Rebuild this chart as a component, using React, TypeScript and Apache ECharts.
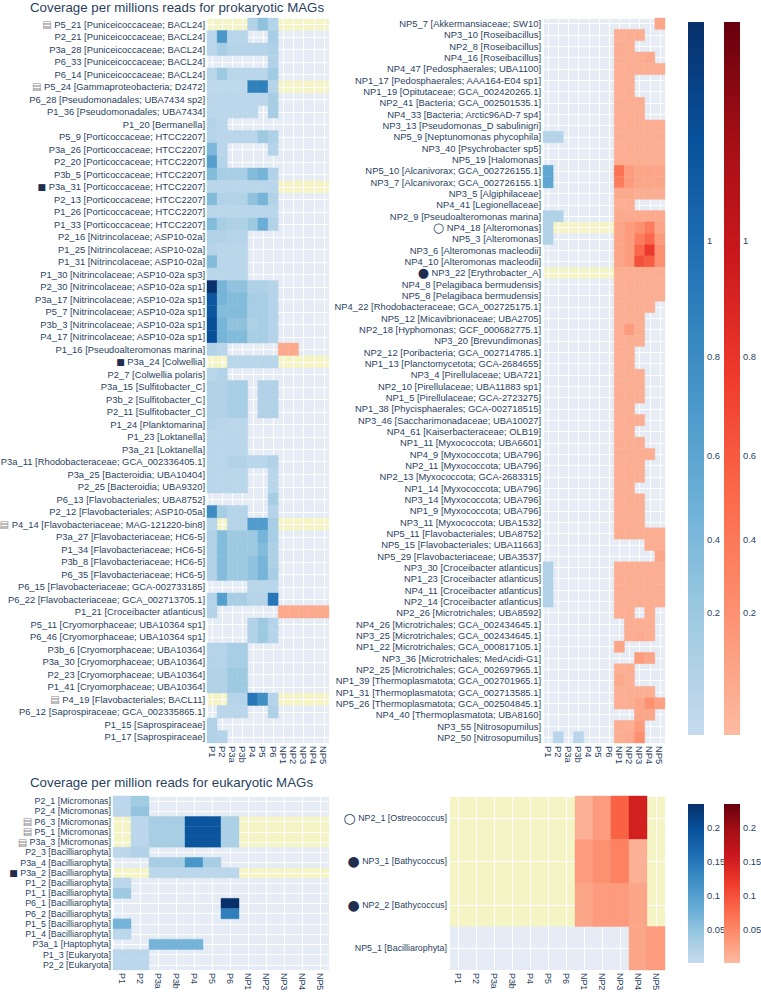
import React, { useEffect, useRef } from "react";
import * as echarts from "echarts";

const N = null;
const E7 = [N, N, N, N, N, N, N];

const COLUMNS = ["P1", "P2", "P3a", "P3b", "P4", "P5", "P6", "NP1", "NP2", "NP3", "NP4", "NP5"];

const TITLE_PRO = "Coverage per millions reads for prokaryotic MAGs";
const TITLE_EUK = "Coverage per million reads for eukaryotic MAGs";

// ---------- prokaryotic, left panel ----------
const PL_ROWS = [
  "P5_21 [Puniceicoccaceae; BACL24]",
  "P2_21 [Puniceicoccaceae; BACL24]",
  "P3a_28 [Puniceicoccaceae; BACL24]",
  "P6_33 [Puniceicoccaceae; BACL24]",
  "P6_14 [Puniceicoccaceae; BACL24]",
  "P5_24 [Gammaproteobacteria; D2472]",
  "P6_28 [Pseudomonadales; UBA7434 sp2]",
  "P1_36 [Pseudomonadales; UBA7434]",
  "P1_20 [Bermanella]",
  "P5_9 [Porticoccaceae; HTCC2207]",
  "P3a_26 [Porticoccaceae; HTCC2207]",
  "P2_20 [Porticoccaceae; HTCC2207]",
  "P3b_5 [Porticoccaceae; HTCC2207]",
  "P3a_31 [Porticoccaceae; HTCC2207]",
  "P2_13 [Porticoccaceae; HTCC2207]",
  "P1_26 [Porticoccaceae; HTCC2207]",
  "P1_33 [Porticoccaceae; HTCC2207]",
  "P2_16 [Nitrincolaceae; ASP10-02a]",
  "P1_25 [Nitrincolaceae; ASP10-02a]",
  "P1_31 [Nitrincolaceae; ASP10-02a]",
  "P1_30 [Nitrincolaceae; ASP10-02a sp3]",
  "P2_30 [Nitrincolaceae; ASP10-02a sp1]",
  "P3a_17 [Nitrincolaceae; ASP10-02a sp1]",
  "P5_7 [Nitrincolaceae; ASP10-02a sp1]",
  "P3b_3 [Nitrincolaceae; ASP10-02a sp1]",
  "P4_17 [Nitrincolaceae; ASP10-02a sp1]",
  "P1_16 [Pseudoalteromonas marina]",
  "P3a_24 [Colwellia]",
  "P2_7 [Colwellia polaris]",
  "P3a_15 [Sulfitobacter_C]",
  "P3b_2 [Sulfitobacter_C]",
  "P2_11 [Sulfitobacter_C]",
  "P1_24 [Planktomarina]",
  "P1_23 [Loktanella]",
  "P3a_21 [Loktanella]",
  "P3a_11 [Rhodobacteraceae; GCA_002336405.1]",
  "P3a_25 [Bacteroidia; UBA10404]",
  "P2_25 [Bacteroidia; UBA9320]",
  "P6_13 [Flavobacteriales; UBA8752]",
  "P2_12 [Flavobacteriales; ASP10-05a]",
  "P4_14 [Flavobacteriaceae; MAG-121220-bin8]",
  "P3a_27 [Flavobacteriaceae; HC6-5]",
  "P1_34 [Flavobacteriaceae; HC6-5]",
  "P3b_8 [Flavobacteriaceae; HC6-5]",
  "P6_35 [Flavobacteriaceae; HC6-5]",
  "P6_15 [Flavobacteriaceae; GCA-002733185]",
  "P6_22 [Flavobacteriaceae; GCA_002713705.1]",
  "P1_21 [Croceibacter atlanticus]",
  "P5_11 [Cryomorphaceae; UBA10364 sp1]",
  "P6_46 [Cryomorphaceae; UBA10364 sp1]",
  "P3b_6 [Cryomorphaceae; UBA10364]",
  "P3a_30 [Cryomorphaceae; UBA10364]",
  "P2_23 [Cryomorphaceae; UBA10364]",
  "P1_41 [Cryomorphaceae; UBA10364]",
  "P4_19 [Flavobacteriales; BACL11]",
  "P6_12 [Saprospiraceae; GCA_002335865.1]",
  "P1_15 [Saprospiraceae]",
  "P1_17 [Saprospiraceae]",
];

const PL_VALUES: (number | null)[][] = [
  [N, N, N, N, 0.1, 0.25, 0.08],
  [0.05, 0.55, 0.07, 0.07, N, N, 0.15],
  [0.06, 0.15, 0.08, 0.08, 0.08, 0.08, 0.12],
  [N, N, N, N, N, N, 0.1],
  [0.06, 0.2, 0.06, 0.06, 0.06, 0.06, 0.18],
  [0.04, 0.04, 0.04, 0.04, 0.7, 0.7, 0.08],
  [0.05, 0.05, 0.05, 0.05, 0.05, 0.05, 0.15],
  [0.06, 0.05, 0.05, 0.05, 0.05, N, 0.15],
  [0.08, 0.06],
  [0.08, 0.06, 0.06, 0.06, 0.06, 0.2, 0.12],
  [0.32, 0.06, N, N, N, N, 0.08],
  [0.5, 0.08],
  [0.3, 0.15, 0.15, 0.15, 0.3, 0.35, 0.1],
  [0.06, 0.06, 0.06, 0.06, 0.06, 0.06, 0.06],
  [0.3, 0.1, 0.1, 0.1, 0.25, 0.35, 0.1],
  [0.06, 0.06, 0.06, 0.06, 0.06, 0.06, 0.06],
  [0.3, 0.15, 0.12, 0.12, 0.2, 0.4, 0.1],
  [0.1, 0.1, 0.08, 0.08],
  [0.08, 0.06, 0.06, 0.06],
  [0.3, 0.06, 0.06, 0.06],
  [0.06, 0.06, 0.06, 0.06],
  [1.18, 0.35, 0.25, 0.25, 0.12, 0.12, 0.08],
  [0.95, 0.35, 0.3, 0.3, 0.15, 0.15, 0.08],
  [0.95, 0.3, 0.3, 0.3, 0.15, 0.15, 0.08],
  [1.0, 0.35, 0.25, 0.25, 0.12, 0.15, 0.08],
  [1.0, 0.35, 0.3, 0.3, 0.15, 0.15, 0.08],
  [0.1, 0.06, N, N, N, N, N, 0.08, 0.08],
  [N, N, 0.06, 0.06, 0.06, 0.06, 0.06],
  [0.06, 0.1],
  [0.1, 0.1, 0.15, 0.15, N, 0.1, 0.1],
  [0.1, 0.1, 0.15, 0.15, N, 0.1, 0.1],
  [0.1, 0.1, 0.15, 0.15, N, 0.1, 0.1],
  [0.08, 0.06, 0.06, 0.06],
  [0.06, 0.06, 0.06, 0.06],
  [0.06, 0.06, 0.06, 0.06],
  [0.06, 0.06, 0.1, 0.1, 0.06, 0.06, 0.1],
  [0.06, 0.06, 0.06, 0.06, N, N, 0.06],
  [0.06, 0.06, 0.06, 0.06, N, N, 0.06],
  [N, N, N, N, N, N, 0.15],
  [0.62, 0.15, 0.08, 0.08, N, N, 0.08],
  [0.06, N, 0.08, 0.08, 0.52, 0.52, 0.15],
  [0.1, 0.3, 0.2, 0.2, 0.2, 0.35, 0.15],
  [0.1, 0.3, 0.2, 0.2, 0.2, 0.3, 0.12],
  [0.1, 0.3, 0.2, 0.2, 0.25, 0.35, 0.12],
  [0.1, 0.3, 0.2, 0.2, 0.25, 0.35, 0.15],
  [N, N, N, N, 0.06, 0.06, 0.06],
  [0.08, 0.5, 0.15, 0.15, 0.08, 0.08, 0.75],
  [0.08, N, N, N, N, N, N, 0.08, 0.08, 0.08, 0.08, 0.08],
  [N, N, N, N, 0.1, 0.2, 0.08],
  [N, N, N, N, 0.1, 0.2, 0.08],
  [0.08, 0.08, 0.15, 0.15],
  [0.08, 0.08, 0.15, 0.15],
  [0.1, 0.1, 0.2, 0.2],
  [0.1, 0.1, 0.2, 0.2],
  [N, N, 0.08, 0.08, 0.75, 0.6, 0.08],
  [N, 0.06, 0.06, 0.06, N, N, 0.12],
  [0.1],
  [0.1, 0.08],
];
const PL_HIGHLIGHT = ["P5_21", "P5_24", "P3a_31", "P3a_24", "P4_14", "P4_19"];

// ---------- prokaryotic, right panel ----------
const PR_ROWS = [
  "NP5_7 [Akkermansiaceae; SW10]",
  "NP3_10 [Roseibacillus]",
  "NP2_8 [Roseibacillus]",
  "NP4_16 [Roseibacillus]",
  "NP4_47 [Pedosphaerales; UBA1100]",
  "NP1_17 [Pedosphaerales; AAA164-E04 sp1]",
  "NP1_19 [Opitutaceae; GCA_002420265.1]",
  "NP2_41 [Bacteria; GCA_002501535.1]",
  "NP4_33 [Bacteria; Arctic96AD-7 sp4]",
  "NP3_13 [Pseudomonas_D sabulinigri]",
  "NP5_9 [Neptunomonas phycophila]",
  "NP3_40 [Psychrobacter sp5]",
  "NP5_19 [Halomonas]",
  "NP5_10 [Alcanivorax; GCA_002726155.1]",
  "NP3_7 [Alcanivorax; GCA_002726155.1]",
  "NP3_5 [Algiphilaceae]",
  "NP4_41 [Legionellaceae]",
  "NP2_9 [Pseudoalteromonas marina]",
  "NP4_18 [Alteromonas]",
  "NP5_3 [Alteromonas]",
  "NP3_6 [Alteromonas macleodii]",
  "NP4_10 [Alteromonas macleodii]",
  "NP3_22 [Erythrobacter_A]",
  "NP4_8 [Pelagibaca bermudensis]",
  "NP5_8 [Pelagibaca bermudensis]",
  "NP4_22 [Rhodobacteraceae; GCA_002725175.1]",
  "NP5_12 [Micavibrionaceae; UBA2705]",
  "NP2_18 [Hyphomonas; GCF_000682775.1]",
  "NP3_20 [Brevundimonas]",
  "NP2_12 [Poribacteria; GCA_002714785.1]",
  "NP1_13 [Planctomycetota; GCA-2684655]",
  "NP3_4 [Pirellulaceae; UBA721]",
  "NP2_10 [Pirellulaceae; UBA11883 sp1]",
  "NP1_5 [Pirellulaceae; GCA-2723275]",
  "NP1_38 [Phycisphaerales; GCA-002718515]",
  "NP3_46 [Saccharimonadaceae; UBA10027]",
  "NP4_61 [Kaiserbacteraceae; OLB19]",
  "NP1_11 [Myxococcota; UBA6601]",
  "NP4_9 [Myxococcota; UBA796]",
  "NP2_11 [Myxococcota; UBA796]",
  "NP2_13 [Myxococcota; GCA-2683315]",
  "NP1_14 [Myxococcota; UBA796]",
  "NP3_14 [Myxococcota; UBA796]",
  "NP1_9 [Myxococcota; UBA796]",
  "NP3_11 [Myxococcota; UBA1532]",
  "NP5_11 [Flavobacteriales; UBA8752]",
  "NP5_15 [Flavobacteriales; UBA11663]",
  "NP5_29 [Flavobacteriaceae; UBA3537]",
  "NP3_30 [Croceibacter atlanticus]",
  "NP1_23 [Croceibacter atlanticus]",
  "NP4_11 [Croceibacter atlanticus]",
  "NP2_14 [Croceibacter atlanticus]",
  "NP2_26 [Microtrichales; UBA8592]",
  "NP4_26 [Microtrichales; GCA_002434645.1]",
  "NP3_25 [Microtrichales; GCA_002434645.1]",
  "NP1_22 [Microtrichales; GCA_000817105.1]",
  "NP3_36 [Microtrichales; MedAcidi-G1]",
  "NP2_25 [Microtrichales; GCA_002697965.1]",
  "NP1_39 [Thermoplasmatota; GCA_002701965.1]",
  "NP1_31 [Thermoplasmatota; GCA_002713585.1]",
  "NP5_26 [Thermoplasmatota; GCA_002504845.1]",
  "NP4_40 [Thermoplasmatota; UBA8160]",
  "NP3_55 [Nitrosopumilus]",
  "NP2_50 [Nitrosopumilus]",
];

const PR_VALUES: (number | null)[][] = [
  [...E7, N, N, N, N, 0.1],
  [...E7, 0.06, 0.06, 0.06],
  [...E7, 0.06, 0.06],
  [...E7, 0.06, 0.06, 0.06, 0.08],
  [...E7, 0.06, 0.06, 0.06, 0.06, 0.06],
  [...E7, 0.06, 0.06],
  [...E7, 0.06, 0.06],
  [...E7, 0.06, 0.06, 0.06],
  [...E7, 0.06, 0.06, 0.06],
  [...E7, 0.06, 0.06, 0.06, 0.06, 0.06],
  [0.08, 0.08, N, N, N, N, N, 0.06, 0.06, 0.06, 0.06, 0.06],
  [...E7, 0.06, 0.06, 0.06, 0.06, 0.06],
  [...E7, 0.06, 0.06, 0.06, 0.06, 0.06],
  [0.45, N, N, N, N, N, N, 0.35, 0.15, 0.1, 0.1, 0.1],
  [0.45, N, N, N, N, N, N, 0.3, 0.15, 0.1, 0.1, 0.1],
  [...E7, 0.08, 0.08, 0.06, 0.06, 0.06],
  [...E7, 0.06, 0.06],
  [0.1, 0.1, N, N, N, N, N, 0.08, 0.08, 0.08, 0.08, 0.08],
  [0.1, N, N, N, N, N, N, 0.1, 0.15, 0.2, 0.3, 0.1],
  [0.1, N, N, N, N, N, N, 0.1, 0.15, 0.3, 0.4, 0.15],
  [...E7, 0.1, 0.15, 0.4, 0.6, 0.2],
  [...E7, 0.1, 0.15, 0.5, 0.45, 0.2],
  [...E7, 0.06, 0.06, 0.06, 0.06, 0.06],
  [...E7, 0.06, 0.06, 0.06, 0.06, 0.06],
  [...E7, 0.06, 0.06, 0.06, 0.06, 0.06],
  [...E7, 0.06, 0.06, 0.06, 0.06],
  [...E7, 0.06, 0.06, 0.06],
  [...E7, 0.06, 0.15, 0.06],
  [...E7, 0.06, 0.06, 0.06],
  [...E7, 0.06, 0.06],
  [...E7, 0.06, 0.06],
  [...E7, 0.06, 0.06, 0.06],
  [...E7, 0.06, 0.06, 0.06],
  [...E7, 0.06, 0.06, 0.06],
  [...E7, 0.06, 0.06],
  [...E7, 0.06, 0.06, 0.06],
  [...E7, 0.06, 0.06],
  [...E7, 0.06, 0.06, 0.06],
  [...E7, 0.06, 0.06, 0.06, 0.06],
  [...E7, 0.06, 0.06, 0.06],
  [...E7, 0.06, 0.06, 0.06],
  [...E7, 0.06, 0.06],
  [...E7, 0.06, 0.06, 0.06],
  [...E7, 0.06, 0.06, 0.06],
  [...E7, 0.06, 0.06, 0.06],
  [...E7, 0.06, 0.06, 0.06, 0.06, 0.06],
  [...E7, N, N, N, 0.06, 0.06],
  [...E7, N, N, N, N, 0.1],
  [0.1, N, N, N, N, N, N, 0.06, 0.06, 0.06, 0.06, 0.06],
  [0.1, N, N, N, N, N, N, 0.06, 0.06, 0.06, 0.06, 0.06],
  [0.1, N, N, N, N, N, N, 0.06, 0.06, 0.06, 0.06, 0.06],
  [0.1, N, N, N, N, N, N, 0.06, 0.06, 0.06, 0.06, 0.06],
  [...E7, 0.06, 0.06, N, 0.06],
  [...E7, N, 0.06, 0.06, 0.06],
  [...E7, N, 0.06, 0.08, 0.06],
  [...E7, 0.1],
  [...E7, N, N, 0.15, 0.1],
  [...E7, 0.06, 0.06],
  [...E7, 0.08, 0.06],
  [...E7, 0.06, 0.06, 0.06, 0.06],
  [...E7, 0.06, 0.06, 0.1, 0.2, 0.12],
  [...E7, N, N, 0.1, 0.1],
  [...E7, 0.06, 0.06, 0.15],
  [N, 0.06, N, 0.06, N, N, N, 0.06, 0.08, 0.2],
];
const PR_HIGHLIGHT = ["NP4_18", "NP3_22"];

// ---------- eukaryotic, left panel ----------
const EL_ROWS = [
  "P2_1 [Micromonas]",
  "P2_4 [Micromonas]",
  "P6_3 [Micromonas]",
  "P5_1 [Micromonas]",
  "P3a_3 [Micromonas]",
  "P2_3 [Bacilliarophyta]",
  "P3a_4 [Bacilliarophyta]",
  "P3a_2 [Bacilliarophyta]",
  "P1_2 [Bacilliarophyta]",
  "P1_1 [Bacilliarophyta]",
  "P6_1 [Bacilliarophyta]",
  "P6_2 [Bacilliarophyta]",
  "P1_5 [Bacilliarophyta]",
  "P1_4 [Bacilliarophyta]",
  "P3a_1 [Haptophyta]",
  "P1_3 [Eukaryota]",
  "P2_2 [Eukaryota]",
];
const EL_VALUES: (number | null)[][] = [
  [0.01, 0.035],
  [0.01, 0.047],
  [N, 0.01, 0.03, 0.03, 0.19, 0.19, 0.025],
  [N, 0.01, 0.03, 0.03, 0.19, 0.19, 0.025],
  [N, 0.01, 0.03, 0.03, 0.19, 0.19, 0.025],
  [0.01, 0.02],
  [N, N, 0.03, 0.03, 0.11, 0.03],
  [N, N, 0.01, 0.01, 0.01, 0.01, 0.01],
  [0.01],
  [0.04],
  [N, N, N, N, N, N, 0.234],
  [N, N, N, N, N, N, 0.14],
  [0.07],
  [0.01],
  [N, N, 0.07, 0.07, 0.07],
  [0.01, 0.01],
  [0.01, 0.01],
];
const EL_HIGHLIGHT = ["P6_3", "P5_1", "P3a_3", "P3a_2"];

// ---------- eukaryotic, right panel ----------
const ER_ROWS = [
  "NP2_1 [Ostreococcus]",
  "NP3_1 [Bathycoccus]",
  "NP2_2 [Bathycoccus]",
  "NP5_1 [Bacilliarophyta]",
];
const ER_VALUES: (number | null)[][] = [
  [...E7, 0.01, 0.03, 0.085, 0.148],
  [...E7, 0.03, 0.04, 0.055, 0.01],
  [...E7, 0.02, 0.03, 0.03, 0.02],
  [...E7, N, N, N, 0.02, 0.03],
];
const ER_HIGHLIGHT = ["NP2_1", "NP3_1", "NP2_2"];

// ---------- markers next to labels ----------
const MARKERS: Record<string, string> = {
  P5_21: "stripe", P5_24: "stripe", P3a_31: "square", P3a_24: "square", P4_14: "stripe", P4_19: "stripe",
  NP4_18: "ocircle", NP3_22: "fcircle",
  P6_3: "stripe", P5_1: "stripe", P3a_3: "stripe", P3a_2: "square",
  NP2_1: "ocircleL", NP3_1: "fcircleL", NP2_2: "fcircleL",
};
const MARKER_GLYPH: Record<string, string> = {
  stripe: "\u25A4", square: "\u25A0", ocircle: "\u25CB", fcircle: "\u25CF", ocircleL: "\u25CB", fcircleL: "\u25CF",
};

// ---------- colour bars ----------
const TOP_MAX = 1.18;
const TOP_TICK_LABELS = ["0.2", "0.4", "0.6", "0.8", "1"];
const TOP_TICK_POS = [0.202, 0.323, 0.463, 0.627, 0.819];
const BOT_MAX = 0.234;
const BOT_TICK_LABELS = ["0.05", "0.1", "0.15", "0.2"];
const BOT_TICK_POS = [0.05, 0.1, 0.15, 0.2];

const BLUE_STOPS = [[198, 219, 239], [158, 202, 225], [107, 174, 214], [66, 146, 198], [33, 113, 181], [8, 81, 156], [8, 48, 107]];
const RED_STOPS = [[252, 187, 161], [252, 146, 114], [251, 106, 74], [239, 59, 44], [203, 24, 29], [165, 15, 21], [103, 0, 13]];

const TEXT = "#2a3f5f";
const BG = "#E5ECF6";
const YELLOW = "#f4f4c4";
const FONT = "'Liberation Sans', Arial, sans-serif";

function scaleColor(stops: number[][], f: number): string {
  const t0 = Math.max(0, Math.min(1, f)) * (stops.length - 1);
  const i = Math.min(stops.length - 2, Math.floor(t0));
  const t = t0 - i;
  const c = stops[i].map((s, k) => Math.round(s + (stops[i + 1][k] - s) * t));
  return `rgb(${c[0]},${c[1]},${c[2]})`;
}

function gradient(stops: number[][]) {
  const n = stops.length - 1;
  return new echarts.graphic.LinearGradient(
    0, 0, 0, 1,
    stops.map((c, k) => ({ offset: k / n, color: `rgb(${stops[n - k][0]},${stops[n - k][1]},${stops[n - k][2]})` }))
  );
}

function isInt(v: number) {
  return Math.abs(v - Math.round(v)) < 1e-6;
}

type Box = { left: number; top: number; width: number; height: number };

function panel(gi: number, rows: string[], values: (number | null)[][], highlight: string[], vmax: number, box: Box, fontSize: number) {
  const ids = rows.map((r) => r.split(" ")[0]);
  const cells: number[][] = [];
  values.forEach((row, y) => {
    for (let x = 0; x < COLUMNS.length; x++) {
      const v = row[x];
      if (v !== null && v !== undefined) cells.push([x, y, v]);
    }
  });
  const hl = highlight.map((id) => [0, ids.indexOf(id)]);
  const n = rows.length;
  const grid = {
    ...box, show: true, backgroundColor: BG, borderWidth: 0, z: -10,
    containLabel: false, outerBoundsMode: "none",
  };
  const xAxis = {
    type: "value", gridIndex: gi, min: -0.5, max: COLUMNS.length - 0.5, splitNumber: COLUMNS.length,
    axisLine: { show: false }, axisTick: { show: false },
    splitLine: { show: true, lineStyle: { color: "#ffffff", width: 1 } },
    axisLabel: {
      rotate: -90, margin: 3, fontSize, color: TEXT, fontFamily: FONT,
      formatter: (v: number) => (isInt(v) ? COLUMNS[Math.round(v)] : ""),
    },
  };
  const yAxis = {
    type: "value", gridIndex: gi, inverse: true, min: -0.5, max: n - 0.5, splitNumber: n,
    axisLine: { show: false }, axisTick: { show: false },
    splitLine: { show: true, lineStyle: { color: "#ffffff", width: 1 } },
    axisLabel: {
      margin: 2, fontSize, color: TEXT, fontFamily: FONT,
      formatter: (v: number) => {
        if (!isInt(v)) return "";
        const i = Math.round(v);
        const m = MARKERS[ids[i]];
        return m ? `{${m}|${MARKER_GLYPH[m]}} ${rows[i]}` : rows[i];
      },
      rich: {
        stripe: { fontFamily: "DejaVu Sans", fontSize: 10, color: "#8a8a8a" },
        square: { fontFamily: "DejaVu Sans", fontSize: 9, color: "#1f2d4f" },
        ocircle: { fontFamily: "DejaVu Sans", fontSize: 13, color: "#2a3f5f" },
        fcircle: { fontFamily: "DejaVu Sans", fontSize: 13, color: "#1f2d4f" },
        ocircleL: { fontFamily: "DejaVu Sans", fontSize: 14, color: "#2a3f5f" },
        fcircleL: { fontFamily: "DejaVu Sans", fontSize: 14, color: "#1f2d4f" },
      },
    },
  };
  const series = [
    {
      type: "custom", xAxisIndex: gi, yAxisIndex: gi, z: -5, silent: true,
      data: hl, encode: { x: 0, y: 1 },
      renderItem: (_p: any, api: any) => {
        const y = api.value(1);
        const a = api.coord([-0.5, y - 0.5]);
        const b = api.coord([COLUMNS.length - 0.5, y + 0.5]);
        return {
          type: "rect",
          shape: { x: Math.min(a[0], b[0]), y: Math.min(a[1], b[1]), width: Math.abs(b[0] - a[0]), height: Math.abs(b[1] - a[1]) },
          style: { fill: YELLOW },
        };
      },
    },
    {
      type: "custom", xAxisIndex: gi, yAxisIndex: gi, z: 3, silent: true,
      data: cells, encode: { x: 0, y: 1 },
      renderItem: (_p: any, api: any) => {
        const x = api.value(0);
        const y = api.value(1);
        const v = api.value(2);
        const a = api.coord([x - 0.5, y - 0.5]);
        const b = api.coord([x + 0.5, y + 0.5]);
        const fill = scaleColor(x >= 7 ? RED_STOPS : BLUE_STOPS, v / vmax);
        return {
          type: "rect",
          shape: { x: Math.min(a[0], b[0]), y: Math.min(a[1], b[1]), width: Math.abs(b[0] - a[0]), height: Math.abs(b[1] - a[1]) },
          style: { fill, stroke: fill, lineWidth: 0.4 },
        };
      },
    },
  ];
  return { grid, xAxis, yAxis, series };
}

function colorbar(gi: number, stops: number[][], vmax: number, tickPos: number[], tickLabels: string[], box: Box, fontSize: number) {
  const grid = { ...box, show: false, containLabel: false, outerBoundsMode: "none" };
  const xAxis = { type: "category", gridIndex: gi, data: ["c"], show: false };
  const yAxis = {
    type: "value", gridIndex: gi, min: 0, max: vmax, position: "right",
    axisLine: { show: false }, axisTick: { show: false }, splitLine: { show: false },
    axisLabel: {
      margin: 3, fontSize, color: TEXT, fontFamily: FONT,
      customValues: tickPos,
      formatter: (v: number) => {
        let best = -1;
        let bd = Infinity;
        tickPos.forEach((p, k) => {
          const d = Math.abs(p - v);
          if (d < bd) { bd = d; best = k; }
        });
        return bd < 1e-6 ? tickLabels[best] : "";
      },
    },
  };
  const series = [
    {
      type: "bar", xAxisIndex: gi, yAxisIndex: gi, data: [vmax], barWidth: "100%", silent: true,
      itemStyle: { color: gradient(stops) },
    },
  ];
  return { grid, xAxis, yAxis, series };
}

export default function App() {
  const ref = useRef<HTMLDivElement>(null);
  useEffect(() => {
    document.body.style.margin = "0";
    if (!ref.current) return;
    const chart = echarts.init(ref.current, null, { renderer: "svg" });
    const parts = [
      panel(0, PL_ROWS, PL_VALUES, PL_HIGHLIGHT, TOP_MAX, { left: 207, top: 18, width: 122, height: 725 }, 9.4),
      panel(1, PR_ROWS, PR_VALUES, PR_HIGHLIGHT, TOP_MAX, { left: 543, top: 18, width: 122, height: 725 }, 9.4),
      panel(2, EL_ROWS, EL_VALUES, EL_HIGHLIGHT, BOT_MAX, { left: 113, top: 796, width: 216, height: 174 }, 8.9),
      panel(3, ER_ROWS, ER_VALUES, ER_HIGHLIGHT, BOT_MAX, { left: 449, top: 796, width: 216, height: 174 }, 8.9),
      colorbar(4, BLUE_STOPS, TOP_MAX, TOP_TICK_POS, TOP_TICK_LABELS, { left: 688, top: 22, width: 16, height: 713 }, 9.4),
      colorbar(5, RED_STOPS, TOP_MAX, TOP_TICK_POS, TOP_TICK_LABELS, { left: 724, top: 22, width: 16, height: 713 }, 9.4),
      colorbar(6, BLUE_STOPS, BOT_MAX, BOT_TICK_POS, BOT_TICK_LABELS, { left: 688, top: 804, width: 16, height: 159 }, 9.4),
      colorbar(7, RED_STOPS, BOT_MAX, BOT_TICK_POS, BOT_TICK_LABELS, { left: 724, top: 804, width: 16, height: 159 }, 9.4),
    ];
    const option: any = {
      animation: false,
      backgroundColor: "#ffffff",
      textStyle: { fontFamily: FONT },
      grid: parts.map((p) => p.grid),
      xAxis: parts.map((p) => p.xAxis),
      yAxis: parts.map((p) => p.yAxis),
      series: parts.flatMap((p) => p.series),
      graphic: [
        {
          type: "text", x: 30, y: 7,
          style: { text: TITLE_PRO, fontSize: 13.3, fontFamily: FONT, fill: TEXT, verticalAlign: "middle", textVerticalAlign: "middle" },
        },
        {
          type: "text", x: 30, y: 782,
          style: { text: TITLE_EUK, fontSize: 13.3, fontFamily: FONT, fill: TEXT, verticalAlign: "middle", textVerticalAlign: "middle" },
        },
      ],
    };
    chart.setOption(option);
    return () => chart.dispose();
  }, []);
  return <div ref={ref} style={{ width: 761, height: 993 }} />;
}
